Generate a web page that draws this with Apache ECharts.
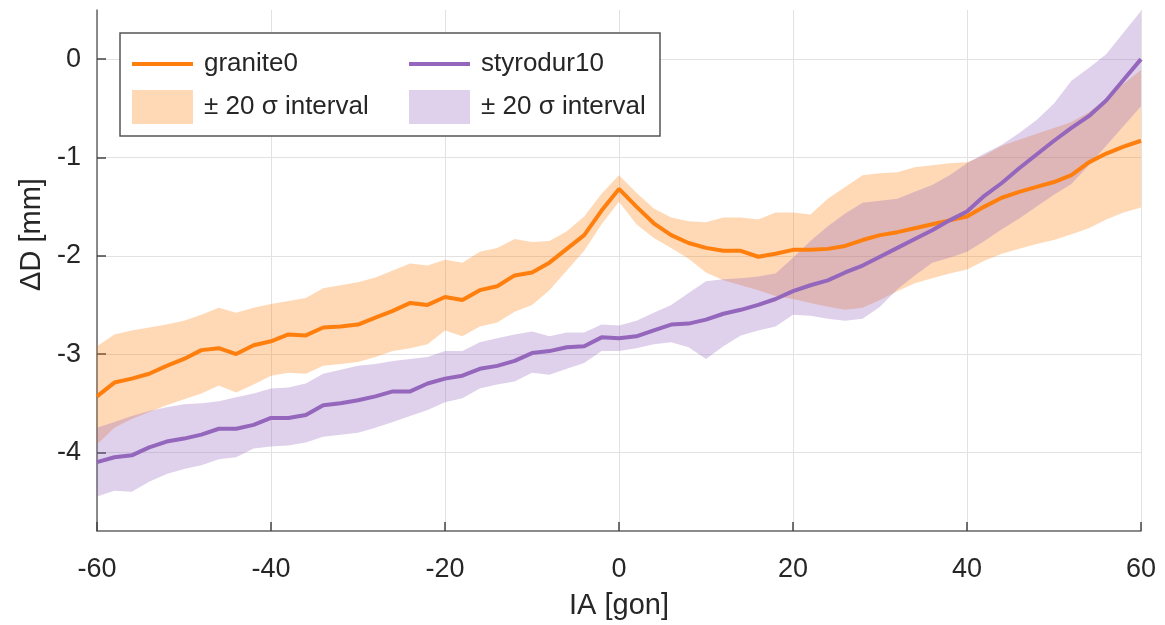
<!DOCTYPE html>
<html><head><meta charset="utf-8">
<script src="https://cdn.jsdelivr.net/npm/echarts@6/dist/echarts.min.js"></script>
<style>html,body{margin:0;padding:0;background:#fff}#c{width:1165px;height:625px}</style>
</head><body><div id="c"></div>
<script>
const IA = [-60,-58,-56,-54,-52,-50,-48,-46,-44,-42,-40,-38,-36,-34,-32,-30,-28,-26,-24,-22,-20,-18,-16,-14,-12,-10,-8,-6,-4,-2,0,2,4,6,8,10,12,14,16,18,20,22,24,26,28,30,32,34,36,38,40,42,44,46,48,50,52,54,56,58,60];

const granite0 = [-3.43,-3.29,-3.25,-3.20,-3.12,-3.05,-2.96,-2.94,-3.00,-2.91,-2.87,-2.80,-2.81,-2.73,-2.72,-2.70,-2.63,-2.56,-2.48,-2.50,-2.42,-2.45,-2.35,-2.31,-2.20,-2.17,-2.07,-1.93,-1.79,-1.54,-1.32,-1.50,-1.67,-1.79,-1.87,-1.92,-1.95,-1.95,-2.01,-1.98,-1.94,-1.94,-1.93,-1.90,-1.84,-1.79,-1.76,-1.72,-1.68,-1.64,-1.60,-1.50,-1.41,-1.35,-1.30,-1.25,-1.18,-1.05,-0.96,-0.89,-0.83];
const granite0Upper = [-2.92,-2.80,-2.76,-2.73,-2.70,-2.66,-2.60,-2.53,-2.58,-2.53,-2.49,-2.46,-2.43,-2.33,-2.30,-2.27,-2.22,-2.15,-2.08,-2.10,-2.04,-2.07,-1.96,-1.92,-1.83,-1.86,-1.85,-1.75,-1.60,-1.37,-1.18,-1.36,-1.52,-1.61,-1.65,-1.66,-1.61,-1.61,-1.63,-1.56,-1.56,-1.58,-1.42,-1.30,-1.18,-1.16,-1.15,-1.10,-1.08,-1.06,-1.05,-0.98,-0.88,-0.82,-0.76,-0.70,-0.64,-0.54,-0.40,-0.25,-0.11];
const granite0Lower = [-3.92,-3.75,-3.66,-3.59,-3.52,-3.46,-3.40,-3.32,-3.39,-3.31,-3.22,-3.19,-3.20,-3.12,-3.10,-3.08,-3.03,-2.97,-2.94,-2.90,-2.76,-2.82,-2.72,-2.68,-2.57,-2.50,-2.35,-2.15,-1.95,-1.68,-1.45,-1.68,-1.82,-1.92,-2.03,-2.17,-2.25,-2.30,-2.35,-2.41,-2.44,-2.48,-2.52,-2.55,-2.53,-2.45,-2.36,-2.28,-2.23,-2.18,-2.14,-2.05,-1.98,-1.93,-1.88,-1.84,-1.78,-1.72,-1.63,-1.56,-1.51];

const styrodur10 = [-4.10,-4.05,-4.03,-3.95,-3.89,-3.86,-3.82,-3.76,-3.76,-3.72,-3.65,-3.65,-3.62,-3.52,-3.50,-3.47,-3.43,-3.38,-3.38,-3.30,-3.25,-3.22,-3.15,-3.12,-3.07,-2.99,-2.97,-2.93,-2.92,-2.83,-2.84,-2.82,-2.76,-2.70,-2.69,-2.65,-2.59,-2.55,-2.50,-2.44,-2.36,-2.30,-2.25,-2.17,-2.10,-2.01,-1.92,-1.83,-1.74,-1.64,-1.55,-1.39,-1.26,-1.11,-0.97,-0.83,-0.70,-0.58,-0.42,-0.21,0.00];
const styrodur10Upper = [-3.75,-3.69,-3.63,-3.58,-3.54,-3.51,-3.50,-3.48,-3.44,-3.40,-3.35,-3.34,-3.30,-3.20,-3.16,-3.12,-3.10,-3.07,-3.05,-3.03,-2.97,-2.97,-2.88,-2.84,-2.80,-2.77,-2.82,-2.78,-2.78,-2.70,-2.71,-2.66,-2.58,-2.50,-2.38,-2.26,-2.24,-2.23,-2.21,-2.18,-2.02,-1.85,-1.70,-1.57,-1.46,-1.44,-1.42,-1.35,-1.28,-1.18,-1.06,-0.96,-0.87,-0.75,-0.62,-0.45,-0.22,-0.09,0.05,0.27,0.49];
const styrodur10Lower = [-4.45,-4.39,-4.40,-4.30,-4.22,-4.17,-4.13,-4.07,-4.05,-3.96,-3.94,-3.93,-3.90,-3.84,-3.82,-3.80,-3.75,-3.69,-3.63,-3.57,-3.49,-3.45,-3.35,-3.31,-3.28,-3.19,-3.21,-3.15,-3.09,-2.97,-2.97,-2.94,-2.90,-2.88,-2.93,-3.05,-2.92,-2.81,-2.76,-2.72,-2.60,-2.61,-2.64,-2.66,-2.64,-2.52,-2.34,-2.20,-2.07,-2.02,-1.96,-1.85,-1.73,-1.62,-1.50,-1.38,-1.27,-1.08,-0.88,-0.68,-0.48];

const xTicks = [-60,-40,-20,0,20,40,60];
const yTicks = [-4,-3,-2,-1,0];
const bandLabel = '± 20 σ interval';

const ORANGE = '#ff7f0e', PURPLE = '#9467bd';
const ORANGE_BAND = 'rgba(255,127,14,0.3)', PURPLE_BAND = 'rgba(148,103,189,0.3)';
const FONT = 'Liberation Sans, Arial, sans-serif';
const TXT = '#262626';
const LINE_ICON = 'path://M0 0H61V4H0Z';

function pairs(ys){ return IA.map((x,i)=>[x, ys[i]]); }

function bandSeries(name, up, lo, col){
  return {
    name: name, type:'custom', coordinateSystem:'cartesian2d', silent:true,
    data: IA.map((x,i)=>[x, lo[i], up[i]]),
    encode:{x:0, y:[1,2]},
    itemStyle:{color: col},
    renderItem: function(params, api){
      if (params.dataIndex !== 0) return null;
      const pts = [];
      for (let i = 0; i < IA.length; i++) pts.push(api.coord([IA[i], up[i]]));
      for (let i = IA.length - 1; i >= 0; i--) pts.push(api.coord([IA[i], lo[i]]));
      return {type:'polygon', shape:{points: pts}, style:{fill: col, stroke:'none'}};
    }
  };
}

const chart = echarts.init(document.getElementById('c'), null, {renderer:'canvas'});
const axisCommon = {
  axisLine:{show:true, onZero:false, lineStyle:{color:'#666', width:1.5}},
  splitLine:{show:true, lineStyle:{color:'#e2e2e2', width:1}},
};
const legendCommon = {
  orient:'vertical', itemWidth:61, itemHeight:34, itemGap:13, padding:0,
  textStyle:{color:TXT, fontSize:26, fontFamily:FONT, padding:[0,0,0,6]},
  selectedMode:false,
  formatter: function(n){ return n.indexOf('band') >= 0 ? bandLabel : n; },
  z: 6
};

chart.setOption({
  animation:false,
  backgroundColor:'#fff',
  grid:{left:97, right:24, top:10, bottom:88, containLabel:false},
  xAxis: Object.assign({}, axisCommon, {
    type:'value', min:-60, max:60, interval:20,
    axisTick:{show:true, inside:true, length:9, lineStyle:{color:'#444', width:1.5}, customValues:xTicks},
    axisLabel:{color:TXT, fontSize:27, fontFamily:FONT, margin:25, customValues:xTicks},
    name:'IA [gon]', nameLocation:'middle', nameGap:60,
    nameTextStyle:{color:TXT, fontSize:29, fontFamily:FONT}
  }),
  yAxis: Object.assign({}, axisCommon, {
    type:'value', min:-4.8, max:0.5,
    axisTick:{show:true, inside:true, length:9, lineStyle:{color:'#444', width:1.5}, customValues:yTicks},
    axisLabel:{color:TXT, fontSize:27, fontFamily:FONT, margin:16, customValues:yTicks},
    name:'ΔD [mm]', nameLocation:'middle', nameGap:50,
    nameTextStyle:{color:TXT, fontSize:29, fontFamily:FONT, padding:[0,0,0,72]}
  }),
  legend:[
    Object.assign({}, legendCommon, {left:132, top:51, data:[
      {name:'granite0', icon:LINE_ICON, itemStyle:{color:ORANGE, borderWidth:0}},
      {name:'granite0 band', icon:'rect', itemStyle:{color:ORANGE_BAND, borderWidth:0}}
    ]}),
    Object.assign({}, legendCommon, {left:409, top:51, data:[
      {name:'styrodur10', icon:LINE_ICON, itemStyle:{color:PURPLE, borderWidth:0}},
      {name:'styrodur10 band', icon:'rect', itemStyle:{color:PURPLE_BAND, borderWidth:0}}
    ]})
  ],
  graphic:[{type:'rect', z:5, shape:{x:120, y:33, width:540, height:103},
            style:{fill:'#fff', stroke:'#555', lineWidth:1.5}}],
  series: [
    bandSeries('granite0 band', granite0Upper, granite0Lower, ORANGE_BAND),
    {name:'granite0', type:'line', data:pairs(granite0), symbol:'none', showSymbol:false,
     lineStyle:{color:ORANGE, width:4}, itemStyle:{color:ORANGE}},
    bandSeries('styrodur10 band', styrodur10Upper, styrodur10Lower, PURPLE_BAND),
    {name:'styrodur10', type:'line', data:pairs(styrodur10), symbol:'none', showSymbol:false,
     lineStyle:{color:PURPLE, width:4}, itemStyle:{color:PURPLE}}
  ]
});
</script></body></html>
